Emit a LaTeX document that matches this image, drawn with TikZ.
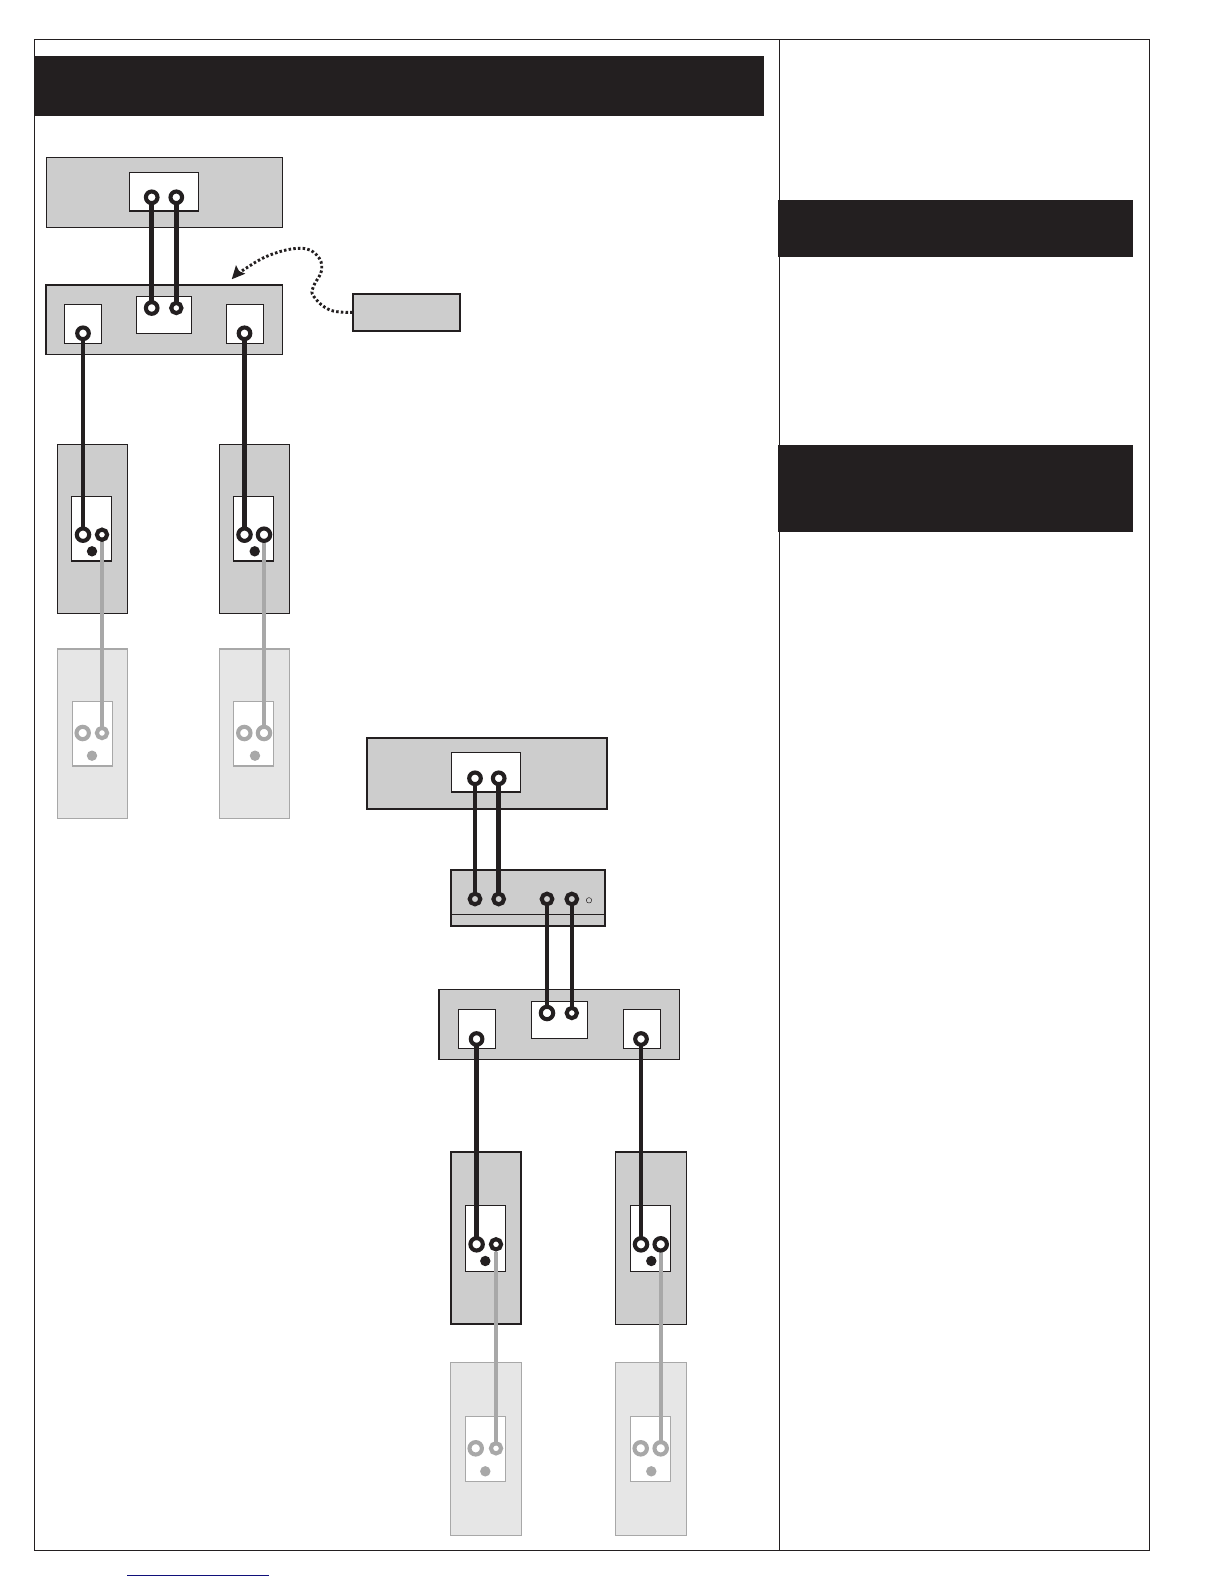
\documentclass[tikz,border=0pt]{standalone}
\usetikzlibrary{arrows.meta}
\definecolor{ink}{HTML}{231F20}
\definecolor{panel}{HTML}{CDCDCD}
\definecolor{pale}{HTML}{E6E6E6}
\definecolor{ghost}{HTML}{A8A8A8}
\definecolor{linkblue}{HTML}{10107A}
\pgfdeclarelayer{boxes}
\pgfdeclarelayer{wires}
\pgfsetlayers{boxes,wires,main}
\tikzset{
  rbox/.style={rectangle,inner sep=0pt,outer sep=0pt},
  header/.style={rbox,fill=ink},
  unit/.style={rbox,draw=ink,fill=panel,line width=1.2pt},
  unitb/.style={rbox,draw=ink,fill=panel,line width=1.7pt},
  socket/.style={rbox,draw=ink,fill=white,line width=1.3pt},
  ghostunit/.style={rbox,draw=ghost,fill=pale,line width=1.5pt},
  ghostsocket/.style={rbox,draw=ghost,fill=white,line width=1.3pt},
  ringbase/.style={circle,inner sep=0pt,outer sep=0pt,fill=white,line width=4.1pt},
  portL/.style={ringbase,draw=ink,minimum size=12.4pt},
  portM/.style={ringbase,draw=ink,minimum size=11.6pt},
  portS/.style={ringbase,draw=ink,minimum size=10.2pt},
  portG/.style={ringbase,draw=ink,fill=panel,minimum size=10.6pt},
  gportL/.style={ringbase,draw=ghost,minimum size=12.4pt},
  gportS/.style={ringbase,draw=ghost,minimum size=10.2pt},
  pilot/.style={circle,inner sep=0pt,outer sep=0pt,fill=ink,minimum size=10.4pt},
  gpilot/.style={circle,inner sep=0pt,outer sep=0pt,fill=ghost,minimum size=10.4pt},
  led/.style={circle,inner sep=0pt,outer sep=0pt,draw=ink,fill=panel,line width=.5pt,minimum size=5.4pt},
  wire/.style={draw=ink,line width=4.5pt},
  gwire/.style={draw=ghost,line width=3.8pt},
  dotline/.style={draw=ink,line width=2.9pt,dash pattern=on 2.5pt off 2.2pt},
  frameline/.style={draw=ink,line width=1.3pt}
}
\newcommand{\bx}[6]{\begin{pgfonlayer}{boxes}\node[#2,minimum width={#5-#3},minimum height={#6-#4}] (#1) at ({(#3+#5)/2},{(#4+#6)/2}) {};\end{pgfonlayer}}
\newcommand{\pn}[4]{\node[#2] (#1) at (#3,#4) {};}
\begin{document}
\begin{tikzpicture}[x=1pt,y=-1pt]
\useasboundingbox (0,0) rectangle (1224,1584);
\begin{pgfonlayer}{boxes}
  \draw[frameline] (34.3,39.5) rectangle (1149.3,1550.3);
  \draw[frameline] (779.5,39.5) -- (779.5,1550.3);
\end{pgfonlayer}
\draw[draw=linkblue,line width=1.2pt] (127,1575.3) -- (268.7,1575.3);
% headers
\bx{h1}{header}{34}{56}{764}{116}
\bx{h2}{header}{778}{200}{1133}{257}
\bx{h3}{header}{778}{445}{1133}{531.7}
% first diagram
\bx{a}{unit}{46.3}{157.3}{282.3}{227.3}
\bx{ai}{socket}{129.3}{172.3}{198.3}{211}
\bx{b}{unit}{46}{285}{282.3}{354.3}
\bx{bm}{socket}{136.7}{296.3}{191.7}{333.3}
\bx{bl}{socket}{64.7}{304.3}{101.3}{343.3}
\bx{br}{socket}{226.7}{304.3}{263.3}{343.3}
\bx{c}{unitb}{352.7}{293.7}{460.3}{331}
\bx{d}{unit}{57.3}{444.3}{127.7}{613.3}
\bx{di}{socket}{71.7}{496.3}{111.7}{561}
\bx{e}{unit}{219.3}{444.3}{289.3}{613.3}
\bx{ei}{socket}{233.7}{496.3}{273.7}{561}
\bx{f}{ghostunit}{57.3}{649}{127.7}{818.7}
\bx{fi}{ghostsocket}{72.3}{701.3}{112.3}{766}
\bx{g}{ghostunit}{219.3}{649}{289.3}{818.7}
\bx{gi}{ghostsocket}{233.7}{701.3}{273.7}{766}
\pn{a1}{portM}{151.7}{197.3}
\pn{a2}{portM}{176.3}{197.3}
\pn{b1}{portM}{151.7}{308}
\pn{b2}{portS}{176.3}{308}
\pn{bl1}{portM}{83}{333.3}
\pn{br1}{portM}{244.5}{333.3}
\pn{d1}{portL}{83}{534.7}
\pn{d2}{portS}{102}{534.7}
\pn{dp}{pilot}{92}{551.3}
\pn{e1}{portL}{244.5}{534.7}
\pn{e2}{portL}{264}{534.7}
\pn{ep}{pilot}{254.7}{551.3}
\pn{f1}{gportL}{82.7}{733}
\pn{f2}{gportS}{102}{733}
\pn{fp}{gpilot}{92}{755.7}
\pn{g1}{gportL}{244.3}{733}
\pn{g2}{gportL}{264}{733}
\pn{gp}{gpilot}{255}{755.7}
% second diagram
\bx{hh}{unitb}{366.7}{737.7}{607.3}{809}
\bx{hi}{socket}{451.3}{752.7}{520.7}{792}
\bx{ii}{unitb}{450.7}{869.7}{605.3}{926.3}
\bx{j}{unit}{439}{989.3}{679.3}{1059.8}
\bx{jm}{socket}{531.3}{1001.3}{587.3}{1038.3}
\bx{jl}{socket}{458.3}{1009.3}{495.7}{1048.3}
\bx{jr}{socket}{623.3}{1009.3}{660.3}{1048.3}
\bx{k}{unitb}{450.7}{1152}{521.3}{1324.3}
\bx{ki}{socket}{465.7}{1205.7}{505.7}{1271.3}
\bx{l}{unit}{615.7}{1152}{686.7}{1324.3}
\bx{li}{socket}{630.3}{1205.7}{670.3}{1271.3}
\bx{m}{ghostunit}{450.7}{1362.7}{521.3}{1535.3}
\bx{mi}{ghostsocket}{465.7}{1416.3}{505.7}{1481.3}
\bx{n}{ghostunit}{615.7}{1362.7}{686.7}{1535.3}
\bx{ni}{ghostsocket}{630.3}{1416.3}{670.3}{1481.3}
\begin{pgfonlayer}{boxes}
  \draw[draw=ink,line width=1pt] (ii.west |- 0,914.3) -- (ii.east |- 0,914.3);
\end{pgfonlayer}
\pn{h1p}{portM}{475}{778.3}
\pn{h2p}{portM}{498.7}{778.3}
\pn{i1}{portG}{475}{899}
\pn{i2}{portG}{498.7}{899}
\pn{i3}{portG}{547}{899}
\pn{i4}{portG}{571.8}{899}
\pn{iled}{led}{589}{900.3}
\pn{j1}{portL}{547}{1013}
\pn{j2}{portS}{571.8}{1013}
\pn{jl1}{portM}{476.6}{1039}
\pn{jr1}{portM}{641}{1039}
\pn{k1}{portL}{476.6}{1244.3}
\pn{k2}{portS}{496}{1244.3}
\pn{kp}{pilot}{485.3}{1261}
\pn{l1}{portL}{641}{1244.3}
\pn{l2}{portL}{660.7}{1244.3}
\pn{lp}{pilot}{651.3}{1261}
\pn{m1}{gportL}{475.7}{1448.3}
\pn{m2}{gportS}{496}{1448.3}
\pn{mp}{gpilot}{485.3}{1471.3}
\pn{n1}{gportL}{640.7}{1448.3}
\pn{n2}{gportL}{660.7}{1448.3}
\pn{np}{gpilot}{651.3}{1471.3}
% connectors
\begin{pgfonlayer}{wires}
  \draw[wire] (a1.center) -- (b1.center);
  \draw[wire] (a2.center) -- (b2.center);
  \draw[wire] (bl1.center) -- (d1.center);
  \draw[wire] (br1.center) -- (e1.center);
  \draw[gwire] (d2.south) -- (f2.center);
  \draw[gwire] (e2.south) -- (g2.center);
  \draw[wire] (h1p.center) -- (i1.center);
  \draw[wire] (h2p.center) -- (i2.center);
  \draw[wire] (i3.center) -- (j1.center);
  \draw[wire] (i4.center) -- (j2.center);
  \draw[wire] (jl1.center) -- (k1.center);
  \draw[wire] (jr1.center) -- (l1.center);
  \draw[gwire] ([yshift=-3pt]k2.south) -- (m2.center);
  \draw[gwire] ([yshift=-1pt]l2.south) -- (n2.center);
\end{pgfonlayer}
\coordinate (tip) at (231.7,279.3);
\draw[dotline,-{Stealth[length=13pt,width=12pt,inset=2pt,fill=ink]}] plot[smooth,tension=.7] coordinates {(c.west) (330,310) (314,296.7) (313.3,286.7) (321.7,270) (316.7,255) (300,248.3) (270,255) (243.3,270) (tip)};
\end{tikzpicture}
\end{document}
